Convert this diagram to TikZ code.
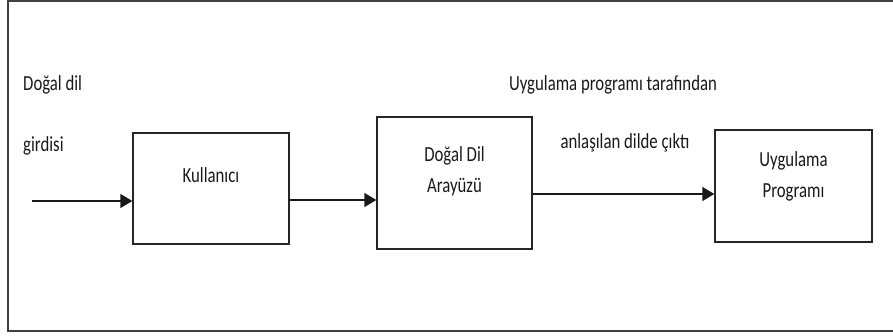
\documentclass[tikz,border=0pt]{standalone}
\usepackage{fontspec}
\setmainfont{Carlito}
\newfontfamily\narrowfont[FakeStretch=0.78]{Carlito}
\usetikzlibrary{arrows.meta}
\definecolor{mgray}{RGB}{64,64,64}

\begin{document}
\begin{tikzpicture}[
    x=1pt, y=-1pt,
    box/.style={rectangle, draw=black!85, line width=1.4pt, inner sep=0pt},
    txt/.style={text=black!90, font=\narrowfont\fontsize{21.5}{26}\selectfont, anchor=base, inner sep=0pt},
    flow/.style={-{Triangle[length=12pt,width=14pt]}, line width=1.4pt, black!90},
    ]

\useasboundingbox (0,0) rectangle (893,335);
\draw[mgray, line width=2pt] (895,1) -- (8,1) -- (8,331) -- (895,331);

\node[box, minimum width=156, minimum height=111] (user) at (211,188.5) {};
\node[box, minimum width=155, minimum height=132] (ui) at (454.5,183) {};
\node[box, minimum width=157, minimum height=112] (prog) at (793.5,186) {};

% texts in the boxes
\node[txt] (userText) at (211,182.5) {Kullanıcı};
\node[txt] (uiText1) at (454.5,161.5) {Doğal Dil};
\node[txt] (uiText2) at (454.5,192.5) {Arayüzü};
\node[txt] (progText1) at (793.5,166.5) {Uygulama};
\node[txt] (progText2) at (793.5,197) {Programı};

% free labels
\node[txt, anchor=base west] (inText1) at (23,90) {Doğal dil};
\node[txt, anchor=base west] (inText2) at (23,151) {girdisi};
\node[txt] (outText1) at (613,90.5) {Uygulama programı tarafından};
\node[txt] (outText2) at (625,148) {anlaşılan dilde çıktı};

\coordinate (in) at (32,201);
\draw[flow] (in) -- (in -| user.west);
\draw[flow] (user.east |- 0,200) -- (ui.west |- 0,200);
\draw[flow] (ui.east |- 0,194) -- (prog.west |- 0,194);

\end{tikzpicture}
\end{document}
